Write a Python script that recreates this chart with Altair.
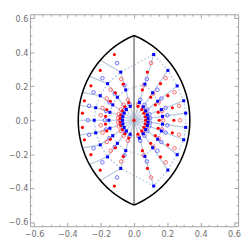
import altair as alt
import pandas as pd
import numpy as np

# ---------------- data ----------------
# blue filled squares (upper half, then lower half)
bs_x = [-0.069, -0.151, -0.239, -0.067, -0.145, -0.230, -0.059, -0.128, -0.203, -0.046, -0.100, -0.159,
        -0.023, -0.050, -0.080, 0.032, 0.065, 0.118, 0.055, 0.112, 0.203, 0.070, 0.142, 0.259,
        0.080, 0.164, 0.298, 0.084, 0.171, 0.310,
        -0.067, -0.145, -0.230, -0.059, -0.128, -0.203, -0.046, -0.100, -0.159,
        -0.023, -0.050, -0.080, 0.032, 0.065, 0.118, 0.055, 0.112, 0.203, 0.070, 0.142, 0.259,
        0.080, 0.164, 0.298, 0.084, 0.171, 0.310]
bs_y = [0.0, 0.0, 0.0, 0.021, 0.047, 0.074, 0.042, 0.091, 0.145, 0.063, 0.136, 0.216,
        0.082, 0.179, 0.284, 0.105, 0.213, 0.388, 0.079, 0.162, 0.294, 0.055, 0.112, 0.203,
        0.031, 0.063, 0.115, 0.011, 0.023, 0.042,
        -0.021, -0.047, -0.074, -0.042, -0.091, -0.145, -0.063, -0.136, -0.216,
        -0.082, -0.179, -0.284, -0.105, -0.213, -0.388, -0.079, -0.162, -0.294, -0.055, -0.112, -0.203,
        -0.031, -0.063, -0.115, -0.011, -0.023, -0.042]
# red filled circles
rf_x = [0.0, 0.069, 0.151, 0.239, 0.067, 0.145, 0.230, 0.059, 0.128, 0.203, 0.046, 0.100, 0.159,
        0.023, 0.050, 0.080, -0.032, -0.065, -0.118, -0.055, -0.112, -0.203, -0.070, -0.142, -0.259,
        -0.080, -0.164, -0.298, -0.084, -0.171, -0.310,
        0.067, 0.145, 0.230, 0.059, 0.128, 0.203, 0.046, 0.100, 0.159,
        0.023, 0.050, 0.080, -0.032, -0.065, -0.118, -0.055, -0.112, -0.203, -0.070, -0.142, -0.259,
        -0.080, -0.164, -0.298, -0.084, -0.171, -0.310]
rf_y = [0.0, 0.0, 0.0, 0.0, 0.021, 0.047, 0.074, 0.042, 0.091, 0.145, 0.063, 0.136, 0.216,
        0.082, 0.179, 0.284, 0.105, 0.213, 0.388, 0.079, 0.162, 0.294, 0.055, 0.112, 0.203,
        0.031, 0.063, 0.115, 0.011, 0.023, 0.042,
        -0.021, -0.047, -0.074, -0.042, -0.091, -0.145, -0.063, -0.136, -0.216,
        -0.082, -0.179, -0.284, -0.105, -0.213, -0.388, -0.079, -0.162, -0.294, -0.055, -0.112, -0.203,
        -0.031, -0.063, -0.115, -0.011, -0.023, -0.042]
# blue open circles
bo_x = [-0.080, -0.175, -0.277, -0.077, -0.168, -0.270, -0.068, -0.148, -0.243, -0.053, -0.116, -0.190,
        -0.027, -0.058, -0.102, 0.037, 0.077, 0.063, 0.140, 0.080, 0.164, 0.092, 0.189, 0.096, 0.200,
        -0.077, -0.168, -0.270, -0.068, -0.148, -0.243, -0.053, -0.116, -0.190,
        -0.027, -0.058, -0.102, 0.037, 0.077, 0.063, 0.140, 0.080, 0.164, 0.092, 0.189, 0.096, 0.200]
bo_y = [0.0, 0.0, 0.0, 0.025, 0.054, 0.085, 0.049, 0.106, 0.165, 0.073, 0.158, 0.248,
        0.095, 0.207, 0.337, 0.121, 0.243, 0.091, 0.180, 0.063, 0.128, 0.036, 0.073, 0.013, 0.030,
        -0.025, -0.054, -0.085, -0.049, -0.106, -0.165, -0.073, -0.158, -0.248,
        -0.095, -0.207, -0.337, -0.121, -0.243, -0.091, -0.180, -0.063, -0.128, -0.036, -0.073, -0.013, -0.030]
# red open circles
ro_x = [0.080, 0.175, 0.277, 0.077, 0.168, 0.270, 0.068, 0.148, 0.243, 0.053, 0.116, 0.190,
        0.027, 0.058, 0.102, -0.037, -0.077, -0.063, -0.140, -0.080, -0.164, -0.092, -0.189, -0.096, -0.200,
        0.077, 0.168, 0.270, 0.068, 0.148, 0.243, 0.053, 0.116, 0.190,
        0.027, 0.058, 0.102, -0.037, -0.077, -0.063, -0.140, -0.080, -0.164, -0.092, -0.189, -0.096, -0.200]
ro_y = [0.0, 0.0, 0.0, 0.025, 0.054, 0.085, 0.049, 0.106, 0.165, 0.073, 0.158, 0.248,
        0.095, 0.207, 0.337, 0.121, 0.243, 0.091, 0.180, 0.063, 0.128, 0.036, 0.073, 0.013, 0.030,
        -0.025, -0.054, -0.085, -0.049, -0.106, -0.165, -0.073, -0.158, -0.248,
        -0.095, -0.207, -0.337, -0.121, -0.243, -0.091, -0.180, -0.063, -0.128, -0.036, -0.073, -0.013, -0.030]

# solid spokes of the blue grid
spoke_x = [
    [-0.335, -0.239, -0.151, -0.069, 0.0],
    [-0.326, -0.230, -0.145, -0.067, 0.0], [-0.308, -0.203, -0.128, -0.059, 0.0],
    [-0.266, -0.159, -0.100, -0.046, 0.0], [-0.200, -0.080, -0.050, -0.023, 0.0],
    [0.118, 0.065, 0.032, 0.0], [0.203, 0.112, 0.055, 0.0], [0.259, 0.142, 0.070, 0.0],
    [0.298, 0.164, 0.080, 0.0], [0.310, 0.171, 0.084, 0.0],
    [-0.326, -0.230, -0.145, -0.067, 0.0], [-0.308, -0.203, -0.128, -0.059, 0.0],
    [-0.266, -0.159, -0.100, -0.046, 0.0], [-0.200, -0.080, -0.050, -0.023, 0.0],
    [0.118, 0.065, 0.032, 0.0], [0.203, 0.112, 0.055, 0.0], [0.259, 0.142, 0.070, 0.0],
    [0.298, 0.164, 0.080, 0.0], [0.310, 0.171, 0.084, 0.0]]
spoke_y = [
    [0.0, 0.0, 0.0, 0.0, 0.0],
    [0.087, 0.074, 0.047, 0.021, 0.0], [0.163, 0.145, 0.091, 0.042, 0.0],
    [0.259, 0.216, 0.136, 0.063, 0.0], [0.353, 0.284, 0.179, 0.082, 0.0],
    [0.388, 0.213, 0.105, 0.0], [0.294, 0.162, 0.079, 0.0], [0.203, 0.112, 0.055, 0.0],
    [0.115, 0.063, 0.031, 0.0], [0.042, 0.023, 0.011, 0.0],
    [-0.087, -0.074, -0.047, -0.021, 0.0], [-0.163, -0.145, -0.091, -0.042, 0.0],
    [-0.259, -0.216, -0.136, -0.063, 0.0], [-0.353, -0.284, -0.179, -0.082, 0.0],
    [-0.388, -0.213, -0.105, 0.0], [-0.294, -0.162, -0.079, 0.0], [-0.203, -0.112, -0.055, 0.0],
    [-0.115, -0.063, -0.031, 0.0], [-0.042, -0.023, -0.011, 0.0]]

# dashed rings of the blue grid
ring_x = [
    [-0.069, -0.067, -0.059, -0.046, -0.023, 0.032, 0.055, 0.070, 0.080, 0.084,
     0.084, 0.080, 0.070, 0.055, 0.032, -0.023, -0.046, -0.059, -0.067, -0.069],
    [-0.151, -0.145, -0.128, -0.100, -0.050, 0.065, 0.112, 0.142, 0.164, 0.171,
     0.171, 0.164, 0.142, 0.112, 0.065, -0.050, -0.100, -0.128, -0.145, -0.151],
    [-0.239, -0.230, -0.203, -0.159, -0.080, 0.118, 0.203, 0.259, 0.298, 0.310,
     0.310, 0.298, 0.259, 0.203, 0.118, -0.080, -0.159, -0.203, -0.230, -0.239]]
ring_y = [
    [0.0, 0.021, 0.042, 0.063, 0.082, 0.105, 0.079, 0.055, 0.031, 0.011,
     -0.011, -0.031, -0.055, -0.079, -0.105, -0.082, -0.063, -0.042, -0.021, 0.0],
    [0.0, 0.047, 0.091, 0.136, 0.179, 0.213, 0.162, 0.112, 0.063, 0.023,
     -0.023, -0.063, -0.112, -0.162, -0.213, -0.179, -0.136, -0.091, -0.047, 0.0],
    [0.0, 0.074, 0.145, 0.216, 0.284, 0.388, 0.294, 0.203, 0.115, 0.042,
     -0.042, -0.115, -0.203, -0.294, -0.388, -0.284, -0.216, -0.145, -0.074, 0.0]]

# lens boundary and axis ticks
lens_tip = 0.5
lens_half_width = 0.335
tick_major = [-0.6, -0.4, -0.2, 0.0, 0.2, 0.4, 0.6]
tick_minor = [-0.55, -0.5, -0.45, -0.35, -0.3, -0.25, -0.15, -0.1, -0.05,
              0.05, 0.1, 0.15, 0.25, 0.3, 0.35, 0.45, 0.5, 0.55]

# ---------------- build tables ----------------
c = (lens_tip**2 - lens_half_width**2) / (2 * lens_half_width)
R = c + lens_half_width
t0 = np.arctan2(lens_tip, c)
t = np.linspace(-t0, t0, 60)
right_x = -c + R * np.cos(t)
right_y = R * np.sin(t)
left_x = c - R * np.cos(t[::-1])
left_y = R * np.sin(t[::-1])
lens = pd.DataFrame({
    "x": np.concatenate([right_x, left_x, right_x[:1]]),
    "y": np.concatenate([right_y, left_y, right_y[:1]]),
})
lens["o"] = range(len(lens))

vline = pd.DataFrame({"x": [0.0, 0.0], "y": [-lens_tip, lens_tip], "o": [0, 1]})


def polylines(xs, ys):
    rows = []
    for i, (px, py) in enumerate(zip(xs, ys)):
        for j, (a, b) in enumerate(zip(px, py)):
            rows.append({"id": i, "o": j, "x": a, "y": b})
    return pd.DataFrame(rows)


spokes = polylines(spoke_x, spoke_y)
rings = polylines(ring_x, ring_y)

bs = pd.DataFrame({"x": bs_x, "y": bs_y})
bo = pd.DataFrame({"x": bo_x, "y": bo_y})
rf = pd.DataFrame({"x": rf_x, "y": rf_y})
ro = pd.DataFrame({"x": ro_x, "y": ro_y})

W, H = 218, 222
dom = [-0.625, 0.625]
sx = alt.Scale(domain=dom, nice=False, zero=False)
sy = alt.Scale(domain=dom, nice=False, zero=False)
tick_col = "#a0a0a0"
grid_col = "#b4c6dc"


def tick_axis(orient, off, vals, size):
    return alt.Axis(orient=orient, offset=off, values=vals, tickSize=size, labels=False,
                    domain=False, grid=False, title=None, tickColor=tick_col, tickWidth=1)


lab_x = alt.Axis(orient="bottom", values=tick_major, format=".1f", ticks=False, domain=False,
                 grid=False, title=None, labelFontSize=8.5, labelColor="#6e6e6e", labelPadding=4,
                 labelFont="DejaVu Sans")
lab_y = alt.Axis(orient="left", values=tick_major, format=".1f", ticks=False, domain=False,
                 grid=False, title=None, labelFontSize=8.5, labelColor="#6e6e6e", labelPadding=2,
                 labelFont="DejaVu Sans")

lens_layer = alt.Chart(lens).mark_line(color="black", strokeWidth=1.6).encode(
    x=alt.X("x:Q", scale=sx, axis=lab_x), y=alt.Y("y:Q", scale=sy, axis=lab_y), order="o:Q")

spoke_layer = alt.Chart(spokes).mark_line(color=grid_col, strokeWidth=1.2).encode(
    x=alt.X("x:Q", scale=sx, axis=tick_axis("top", -H, tick_major, 4)),
    y=alt.Y("y:Q", scale=sy, axis=tick_axis("right", -W, tick_major, 4)),
    detail="id:N", order="o:Q")

ring_layer = alt.Chart(rings).mark_line(color=grid_col, strokeWidth=1.2, strokeDash=[2, 2]).encode(
    x=alt.X("x:Q", scale=sx, axis=tick_axis("top", -H, tick_minor, 2)),
    y=alt.Y("y:Q", scale=sy, axis=tick_axis("right", -W, tick_minor, 2)),
    detail="id:N", order="o:Q")

vline_layer = alt.Chart(vline).mark_line(color="#808080", strokeWidth=1.6).encode(
    x=alt.X("x:Q", scale=sx, axis=tick_axis("bottom", -H, tick_major, 4)),
    y=alt.Y("y:Q", scale=sy, axis=tick_axis("left", -W, tick_major, 4)),
    order="o:Q")

bs_layer = alt.Chart(bs).mark_point(shape="square", filled=True, size=10, color="#0000ff", opacity=1).encode(
    x=alt.X("x:Q", scale=sx, axis=tick_axis("bottom", -H, tick_minor, 2)),
    y=alt.Y("y:Q", scale=sy, axis=tick_axis("left", -W, tick_minor, 2)))

bo_layer = alt.Chart(bo).mark_point(shape="circle", filled=False, size=14, color="#5a5aff",
                                    strokeWidth=0.9, opacity=1).encode(
    x=alt.X("x:Q", scale=sx, axis=None), y=alt.Y("y:Q", scale=sy, axis=None))

rf_layer = alt.Chart(rf).mark_circle(size=11, color="#ff0000", opacity=1).encode(
    x=alt.X("x:Q", scale=sx, axis=None), y=alt.Y("y:Q", scale=sy, axis=None))

ro_layer = alt.Chart(ro).mark_point(shape="circle", filled=False, size=14, color="#ff5a5a",
                                    strokeWidth=0.9, opacity=1).encode(
    x=alt.X("x:Q", scale=sx, axis=None), y=alt.Y("y:Q", scale=sy, axis=None))

chart = alt.layer(
    spoke_layer, ring_layer, vline_layer, lens_layer, bo_layer, ro_layer, rf_layer, bs_layer
).resolve_axis(x="independent", y="independent").properties(
    width=W, height=H, padding=0
).configure_view(stroke="#a0a0a0", strokeWidth=1)

chart.save("out.html", embed_options={"renderer": "svg", "actions": False})
